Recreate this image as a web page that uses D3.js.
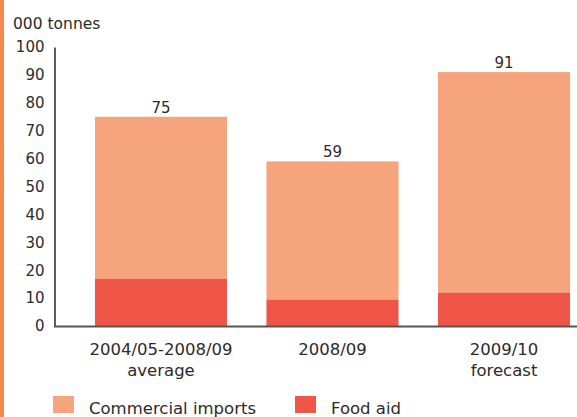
<!DOCTYPE html>
<html>
<head>
<meta charset="utf-8">
<script src="https://cdn.jsdelivr.net/npm/d3@7"></script>
<style>
	body { margin: 0; background: #fff; }
	text { font-family: "DejaVu Sans", "Noto Sans", sans-serif; fill: #2b2b2b; }
</style>
</head>
<body>
<svg width="577" height="417"></svg>
<script>
// data
var categories = [
	["2004/05-2008/09", "average"],
	["2008/09"],
	["2009/10", "forecast"],
];
var foodAid = [17, 9.5, 12];
var commercial = [58, 49.5, 79];
var totals = [75, 59, 91];
var yTicks = [0, 10, 20, 30, 40, 50, 60, 70, 80, 90, 100];
var seriesNames = ["Commercial imports", "Food aid"];
var colors = { commercial: "#f5a47c", food: "#ef5648" };

var svg = d3.select("svg");

// orange stripe on the left edge
svg.append("rect").attr("x", 0).attr("y", 0).attr("width", 4).attr("height", 417).style("fill", "#f58a4e");

var x = d3.scaleBand().domain([0, 1, 2]).range([55.5, 609.5]).paddingInner(0.23).paddingOuter(0.23);
var y = d3.scaleLinear().domain([0, 100]).range([326, 47]);

svg.append("text").attr("x", 13).attr("y", 29).style("font-size", "15.5px").text("000 tonnes");

// y axis
var yAxis = svg.append("g").attr("transform", "translate(54.5,0)")
	.call(d3.axisLeft(y).tickValues(yTicks).tickSize(0).tickPadding(10));
yAxis.select(".domain").attr("stroke", "#333").attr("stroke-width", 1.6);
yAxis.selectAll("text").style("font-size", "15px").style("fill", "#2b2b2b").style("font-family", "DejaVu Sans");

// stacked bars
var bars = svg.append("g");
bars.selectAll("rect.com")
	.data(commercial)
	.enter()
	.append("rect")
	.attr("class", "com")
	.attr("x", function (d, i) { return x(i); })
	.attr("width", x.bandwidth())
	.attr("y", function (d, i) { return y(foodAid[i] + d); })
	.attr("height", function (d, i) { return y(foodAid[i]) - y(foodAid[i] + d); })
	.style("fill", colors.commercial);
bars.selectAll("rect.food")
	.data(foodAid)
	.enter()
	.append("rect")
	.attr("class", "food")
	.attr("x", function (d, i) { return x(i); })
	.attr("width", x.bandwidth())
	.attr("y", function (d) { return y(d); })
	.attr("height", function (d) { return y(0) - y(d); })
	.style("fill", colors.food);

// value labels
svg.selectAll("text.val")
	.data(totals)
	.enter()
	.append("text")
	.attr("class", "val")
	.attr("x", function (d, i) { return x(i) + x.bandwidth() / 2; })
	.attr("y", function (d) { return y(d) - 4; })
	.attr("text-anchor", "middle")
	.style("font-size", "15px")
	.text(function (d) { return d; });

// baseline
svg.append("line").attr("x1", 54).attr("x2", 577).attr("y1", y(0) + 0.5).attr("y2", y(0) + 0.5)
	.attr("stroke", "#555").attr("stroke-width", 2);

// category labels
categories.forEach(function (lines, i) {
	var cx = x(i) + x.bandwidth() / 2;
	var t = svg.append("text")
		.attr("x", cx)
		.attr("y", 355)
		.attr("text-anchor", "middle")
		.style("font-size", "16.5px");
	lines.forEach(function (l, j) {
		t.append("tspan").attr("x", cx).attr("dy", j == 0 ? 0 : 21).text(l);
	});
});

// legend
var legendX = [53, 295];
var legendColors = [colors.commercial, colors.food];
seriesNames.forEach(function (name, i) {
	svg.append("rect").attr("x", legendX[i]).attr("y", 396).attr("width", 21).attr("height", 17).style("fill", legendColors[i]);
	svg.append("text").attr("x", legendX[i] + 36).attr("y", 414).style("font-size", "16.5px").text(name);
});
</script>
</body>
</html>
